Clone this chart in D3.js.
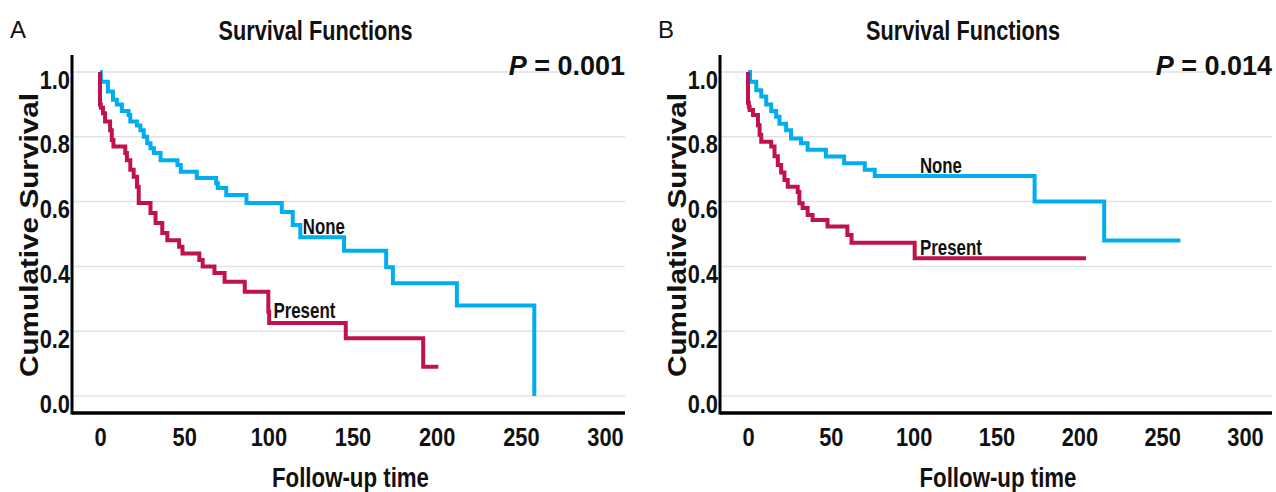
<!DOCTYPE html>
<html>
<head>
<meta charset="utf-8">
<script src="https://cdn.jsdelivr.net/npm/d3@7"></script>
<style>
  body { margin: 0; background: #fff; }
  text { font-family: "Liberation Sans", Arial, sans-serif; }
  .tick text { font-weight: bold; transform-box: fill-box; transform: scaleX(0.84); }
  .ytick text { transform-origin: right center; }
  .xtick text { transform-origin: center; }
</style>
</head>
<body>
<div id="chart"></div>
<script>
// panel A data (follow-up time, cumulative survival)
var aNoneTime = [0, 0.5, 4.7, 7.7, 10, 13, 17, 18, 22, 24, 26, 28, 30, 32, 36, 46, 48, 57.5, 69, 70, 75, 87, 108, 114.5, 119, 145, 170, 174, 212, 258];
var aNoneSurv = [1, 0.97, 0.94, 0.914, 0.90, 0.88, 0.867, 0.847, 0.835, 0.82, 0.80, 0.78, 0.765, 0.75, 0.728, 0.713, 0.692, 0.673, 0.657, 0.642, 0.62, 0.596, 0.568, 0.528, 0.49, 0.448, 0.397, 0.348, 0.279, 0];
var aPresTime = [0, 0, 0.5, 1.8, 3, 6, 7, 8, 15, 16, 18, 20, 22, 23, 30, 33, 37, 40, 47, 49, 59, 61, 68, 74, 86, 100, 100.5, 146, 192, 201];
var aPresSurv = [1, 0.90, 0.89, 0.873, 0.847, 0.82, 0.79, 0.77, 0.75, 0.728, 0.698, 0.677, 0.646, 0.596, 0.565, 0.534, 0.503, 0.481, 0.461, 0.44, 0.42, 0.40, 0.38, 0.353, 0.322, 0.26, 0.225, 0.178, 0.09, 0.09];

// panel B data
var bNoneTime = [0, 1.2, 5, 8, 11, 14, 17, 19, 23, 26, 32, 36, 47, 58, 70.5, 76.5, 173, 215, 261];
var bNoneSurv = [1, 0.97, 0.944, 0.924, 0.90, 0.88, 0.862, 0.84, 0.82, 0.795, 0.78, 0.76, 0.739, 0.718, 0.698, 0.679, 0.60, 0.48, 0.48];
var bPresTime = [0, 0, 0.5, 1, 3, 6, 7, 8, 14, 16, 18, 20, 22, 24, 30, 31, 33, 36, 39, 48, 60, 62.5, 100.6, 204];
var bPresSurv = [1, 0.905, 0.893, 0.883, 0.867, 0.836, 0.806, 0.785, 0.77, 0.74, 0.713, 0.69, 0.667, 0.646, 0.63, 0.595, 0.58, 0.559, 0.543, 0.523, 0.497, 0.473, 0.425, 0.425];

var xTicks = [0, 50, 100, 150, 200, 250, 300];
var yTicks = [0, 0.2, 0.4, 0.6, 0.8, 1.0];

var panels = [
  { letter: "A", pval: "0.001", left: 0, axisX: 72, x0: 100, x300: 605, right: 625,
    none: [aNoneTime, aNoneSurv], pres: [aPresTime, aPresSurv],
    noneLbl: [120.5, 0.499], presLbl: [103, 0.241] },
  { letter: "B", pval: "0.014", left: 648, axisX: 720, x0: 748, x300: 1245, right: 1272,
    none: [bNoneTime, bNoneSurv], pres: [bPresTime, bPresSurv],
    noneLbl: [103.8, 0.689], presLbl: [103.8, 0.435] }
];

var blue = "#00aeef", red = "#c0134e";
var yTop = 72, yBot = 396, axisY = 413;

var svg = d3.select("#chart").append("svg")
    .attr("width", 1276)
    .attr("height", 492);

panels.forEach(function(p) {
    var x = d3.scaleLinear().domain([0, 300]).range([p.x0, p.x300]);
    var y = d3.scaleLinear().domain([0, 1]).range([yBot, yTop]);
    var g = svg.append("g");

    // grid lines
    g.selectAll(".grid")
        .data(yTicks)
        .enter().append("line")
        .attr("x1", p.axisX).attr("x2", p.right)
        .attr("y1", function(d) { return y(d); })
        .attr("y2", function(d) { return y(d); })
        .attr("stroke", "#e2e2e2")
        .attr("stroke-width", 1.5);

    // y axis
    var yAxis = g.append("g")
        .attr("class", "ytick")
        .attr("transform", "translate(" + (p.axisX - 2) + ",0)")
        .call(d3.axisLeft(y).tickValues(yTicks).tickSize(0).tickPadding(0)
            .tickFormat(d3.format(".1f")));
    yAxis.select(".domain").remove();
    yAxis.selectAll("text")
        .attr("dy", "0.62em")
        .attr("font-size", "26px")
        .attr("fill", "#111");
    g.append("line")
        .attr("x1", p.axisX).attr("x2", p.axisX)
        .attr("y1", 55).attr("y2", axisY + 1.5)
        .attr("stroke", "#000").attr("stroke-width", 3);

    // x axis
    var xAxis = g.append("g")
        .attr("class", "xtick")
        .attr("transform", "translate(0," + axisY + ")")
        .call(d3.axisBottom(x).tickValues(xTicks).tickSize(0).tickPadding(15));
    xAxis.select(".domain").remove();
    xAxis.selectAll("text")
        .attr("font-size", "26px")
        .attr("fill", "#111");
    g.append("line")
        .attr("x1", p.axisX).attr("x2", p.right)
        .attr("y1", axisY).attr("y2", axisY)
        .attr("stroke", "#000").attr("stroke-width", 3.5);

    var line = d3.line()
        .x(function(d) { return x(d[0]); })
        .y(function(d) { return y(d[1]); })
        .curve(d3.curveStepAfter);

    [[p.none, blue], [p.pres, red]].forEach(function(s) {
        var pts = d3.zip(s[0][0], s[0][1]);
        g.append("path")
            .attr("d", line(pts))
            .attr("fill", "none")
            .attr("stroke", s[1])
            .attr("stroke-width", 4);
    });

    // series labels
    g.append("text")
        .attr("x", x(p.noneLbl[0])).attr("y", y(p.noneLbl[1]))
        .attr("font-size", "22px").attr("font-weight", "bold").attr("fill", "#111")
        .attr("textLength", 42).attr("lengthAdjust", "spacingAndGlyphs")
        .text("None");
    g.append("text")
        .attr("x", x(p.presLbl[0])).attr("y", y(p.presLbl[1]))
        .attr("font-size", "22px").attr("font-weight", "bold").attr("fill", "#111")
        .attr("textLength", 62).attr("lengthAdjust", "spacingAndGlyphs")
        .text("Present");

    // titles and labels
    g.append("text")
        .attr("x", p.left + 10).attr("y", 38)
        .attr("font-size", "24px").attr("fill", "#111")
        .text(p.letter);
    g.append("text")
        .attr("x", (p.axisX + p.right) / 2 - 33).attr("y", 40)
        .attr("text-anchor", "middle")
        .attr("font-size", "27px").attr("font-weight", "bold").attr("fill", "#111")
        .attr("textLength", 194).attr("lengthAdjust", "spacingAndGlyphs")
        .text("Survival Functions");
    var pt = g.append("text")
        .attr("x", p.right).attr("y", 75)
        .attr("text-anchor", "end")
        .attr("font-weight", "bold")
        .attr("font-size", "27px").attr("fill", "#111");
    pt.append("tspan").attr("font-style", "italic").text("P");
    pt.append("tspan").text(" = " + p.pval);
    g.append("text")
        .attr("transform", "translate(" + (p.left + 38) + "," + 235 + ") rotate(-90)")
        .attr("text-anchor", "middle")
        .attr("font-weight", "bold")
        .attr("font-size", "26px").attr("fill", "#111")
        .attr("textLength", 284).attr("lengthAdjust", "spacingAndGlyphs")
        .text("Cumulative Survival");
    g.append("text")
        .attr("x", (p.axisX + p.right) / 2 + 2).attr("y", 487)
        .attr("text-anchor", "middle")
        .attr("font-size", "27px").attr("font-weight", "bold").attr("fill", "#111")
        .attr("textLength", 157).attr("lengthAdjust", "spacingAndGlyphs")
        .text("Follow-up time");
});
</script>
</body>
</html>
